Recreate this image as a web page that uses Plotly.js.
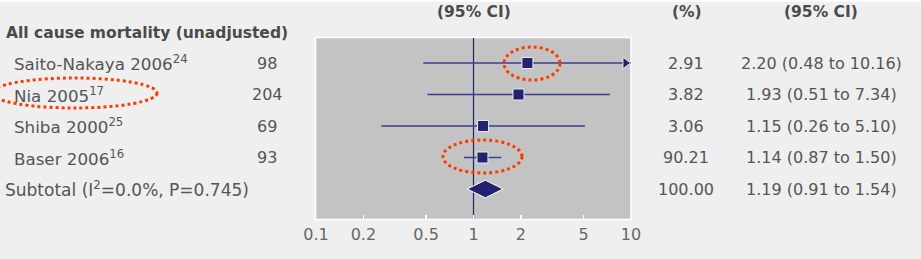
<!DOCTYPE html>
<html>
<head>
<meta charset="utf-8">
<script src="https://cdn.plot.ly/plotly-3.0.1.min.js"></script>
<style>html,body{margin:0;padding:0;background:#efefef;}#chart{width:921px;height:259px;}</style>
</head>
<body>
<div id="chart"></div>
<script>
// ---- data ----
const groupTitle = 'All cause mortality (unadjusted)';
const studies = ['Saito-Nakaya 2006<sup>24</sup>', 'Nia 2005<sup>17</sup>', 'Shiba 2000<sup>25</sup>', 'Baser 2006<sup>16</sup>'];
const nTotal = ['98', '204', '69', '93'];
const weights = ['2.91', '3.82', '3.06', '90.21'];
const orEst = [2.20, 1.93, 1.15, 1.14];
const ciLow = [0.48, 0.51, 0.26, 0.87];
const ciHigh = [10.16, 7.34, 5.10, 1.50];
const subtotalLabel = 'Subtotal (I<sup>2</sup>=0.0%, P=0.745)';
const subtotalWeight = '100.00';
const subtotalEst = 1.19;
const subtotalLow = 0.91;
const subtotalHigh = 1.54;
const headerCI = '(95% CI)';
const headerWeight = '(%)';
const tickVals = [0.1, 0.2, 0.5, 1, 2, 5, 10];
const tickText = ['0.1', '0.2', '0.5', '1', '2', '5', '10'];

// ---- layout helpers ----
const W = 921, H = 259;
const navy = '#22226e';
const lineCol = '#3c3c90';
const textCol = '#555555';
const FONT = 'DejaVu Sans, sans-serif';
const axMin = 0.1, axMax = 10;
const nRows = studies.length;
const rowY = studies.map((_, i) => nRows + 1 - i);  // 5,4,3,2
const subY = 1;
const px = v => v / W;
const py = v => 1 - v / H;
const fmt = (e, l, h) => `${e.toFixed(2)} (${l.toFixed(2)} to ${h.toFixed(2)})`;

// CI lines
const ciX = [], ciY = [];
studies.forEach((_, i) => {
  ciX.push(ciLow[i], Math.min(ciHigh[i], axMax), null);
  ciY.push(rowY[i], rowY[i], null);
});
const traces = [];
traces.push({x: [1, 1], y: [-1, 10], mode: 'lines', line: {color: navy, width: 1.2}, hoverinfo: 'skip', showlegend: false});
traces.push({x: ciX, y: ciY, mode: 'lines', line: {color: lineCol, width: 1.3}, hoverinfo: 'skip', showlegend: false});
// arrows for truncated CIs
const arrX = [], arrY = [];
studies.forEach((_, i) => {
  if (ciHigh[i] > axMax) { arrX.push(Math.pow(10, Math.log10(axMax) - 0.035)); arrY.push(rowY[i]); }
});
traces.push({x: arrX, y: arrY, mode: 'markers', marker: {symbol: 'triangle-right', size: 10, color: navy, line: {color: '#ffffff', width: 0.8}}, hoverinfo: 'skip', showlegend: false, cliponaxis: false});
// squares
traces.push({x: orEst, y: rowY, mode: 'markers', marker: {symbol: 'square', size: 11, color: navy, line: {color: '#e8e8f0', width: 1}}, hoverinfo: 'skip', showlegend: false});
// diamond
const dh = 0.28;
traces.push({x: [subtotalLow, subtotalEst, subtotalHigh, subtotalEst, subtotalLow],
  y: [subY, subY + dh, subY, subY - dh, subY], mode: 'lines', fill: 'toself', fillcolor: navy,
  line: {color: '#ffffff', width: 1}, hoverinfo: 'skip', showlegend: false});

// annotations
const ann = [];
const addText = (text, x, y, anchor, size) => ann.push({
  text, xref: 'paper', yref: 'y', x, y, xanchor: anchor, yanchor: 'middle', showarrow: false,
  font: {family: FONT, size: size, color: textCol}});
studies.forEach((s, i) => {
  addText(s, px(12), rowY[i], 'left', 16.7);
  addText(nTotal[i], px(267), rowY[i], 'center', 16);
  addText(weights[i], px(686), rowY[i], 'center', 16);
  addText(fmt(orEst[i], ciLow[i], ciHigh[i]), px(821), rowY[i], 'center', 16);
});
addText(subtotalLabel, px(3), subY, 'left', 17);
addText(subtotalWeight, px(686), subY, 'center', 16);
addText(fmt(subtotalEst, subtotalLow, subtotalHigh), px(821), subY, 'center', 16);
const hdr = (t, x, y, anchor) => ann.push({text: '<b>' + t + '</b>', xref: 'paper', yref: 'paper', x: px(x), y: py(y),
  xanchor: anchor, yanchor: 'middle', showarrow: false, font: {family: FONT, size: 15.5, color: '#4a4a4a'}});
hdr(groupTitle, 4, 33, 'left');
hdr(headerCI, 474, 12, 'center'); hdr(headerWeight, 687, 12, 'center'); hdr(headerCI, 821, 12, 'center');

const shapes = [
  {type: 'rect', xref: 'paper', yref: 'paper', x0: px(315.5), x1: px(631), y0: py(219.5), y1: py(37.5), line: {color: '#ffffff', width: 1.5}, layer: 'below'},
  {type: 'rect', xref: 'paper', yref: 'paper', x0: 0, x1: 1, y0: py(1.7), y1: 1.01, fillcolor: '#ffffff', line: {width: 0}},
  {type: 'circle', xref: 'paper', yref: 'paper', x0: px(504), x1: px(560), y0: py(80), y1: py(47), line: {color: '#ff3a00', width: 3, dash: 'dot'}},
  {type: 'circle', xref: 'paper', yref: 'paper', x0: px(-8), x1: px(157), y0: py(108), y1: py(78), line: {color: '#ff3a00', width: 3, dash: 'dot'}},
  {type: 'circle', xref: 'paper', yref: 'paper', x0: px(443), x1: px(522), y0: py(173), y1: py(140), line: {color: '#ff3a00', width: 3, dash: 'dot'}}
];

const layout = {
  width: W, height: H,
  margin: {l: 0, r: 0, t: 0, b: 0, pad: 0},
  paper_bgcolor: '#efefef',
  plot_bgcolor: '#c3c3c3',
  showlegend: false,
  xaxis: {type: 'log', range: [Math.log10(axMin), Math.log10(axMax)], domain: [px(316), px(631)],
    tickvals: tickVals, ticktext: tickText, ticks: 'inside', ticklen: 4, tickwidth: 1.5, tickcolor: '#ffffff',
    showgrid: false, zeroline: false, showline: false,
    tickfont: {family: FONT, size: 16, color: '#666666'}, ticklabelstandoff: 4, fixedrange: true},
  yaxis: {range: [0.048, 5.794], domain: [1 - 219 / H, 1 - 38 / H], showticklabels: false, ticks: '',
    showgrid: false, zeroline: false, showline: false, fixedrange: true},
  annotations: ann,
  shapes: shapes
};
Plotly.newPlot('chart', traces, layout, {staticPlot: true, displayModeBar: false});
</script>
</body>
</html>
